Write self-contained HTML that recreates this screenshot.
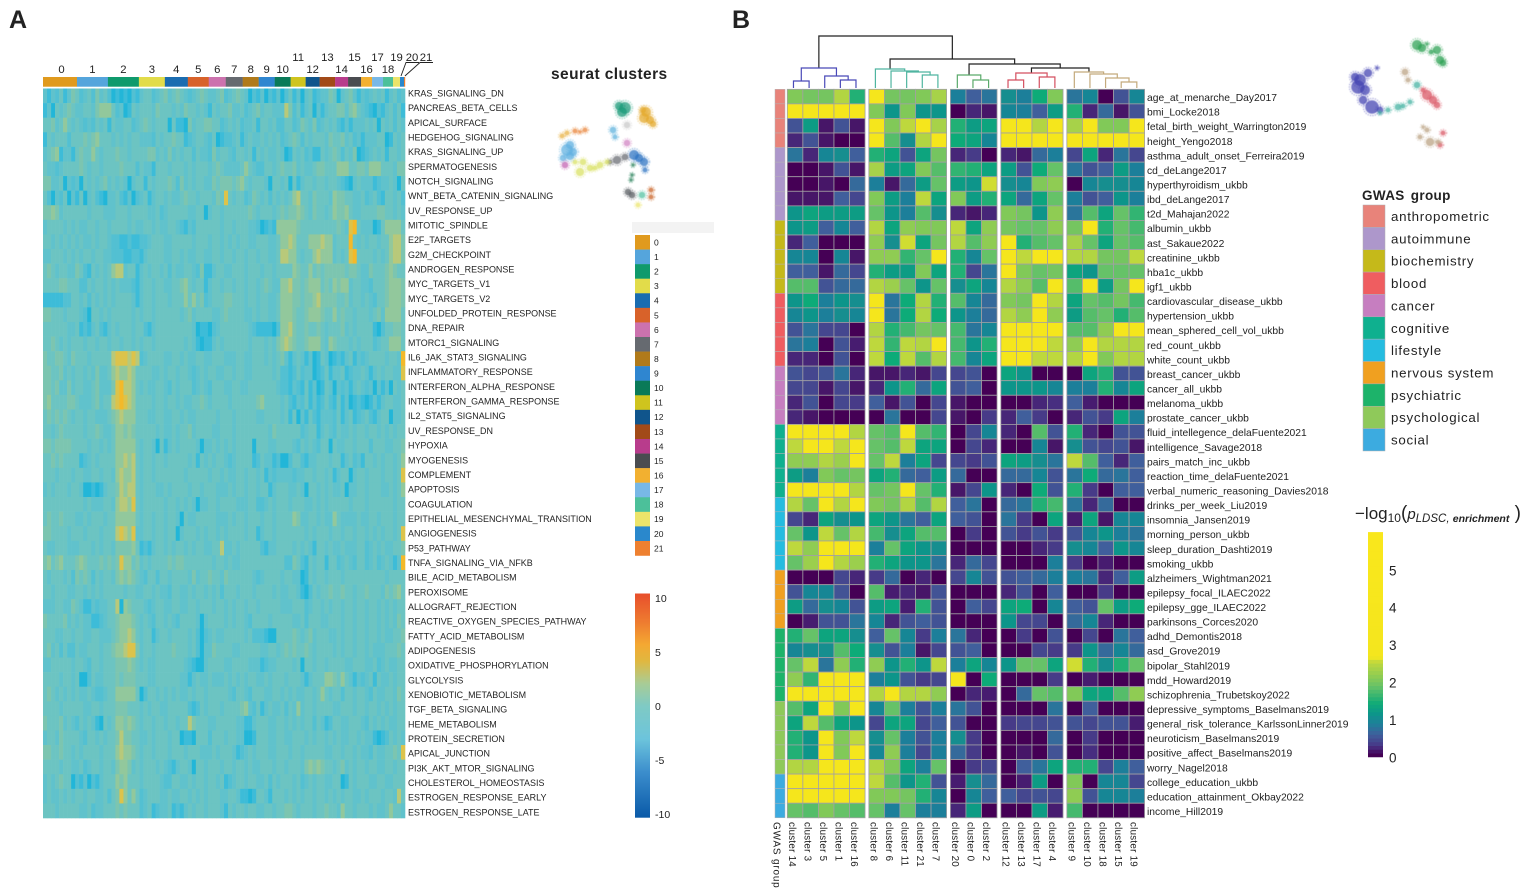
<!DOCTYPE html>
<html lang="en">
<head>
<meta charset="utf-8">
<title>Hallmark pathway and GWAS enrichment heatmaps</title>
<style>
html,body{margin:0;padding:0;background:#fff;width:1535px;height:893px;overflow:hidden}
svg{display:block;font-family:"Liberation Sans",sans-serif}
text{fill:#222}
</style>
</head>
<body>
<svg id="fig" xmlns="http://www.w3.org/2000/svg" width="1535" height="893" viewBox="0 0 1535 893">
<defs><filter id="soft" x="-2%" y="-2%" width="104%" height="104%"><feGaussianBlur stdDeviation="0.45"/></filter>
<filter id="softer" x="-5%" y="-5%" width="110%" height="110%"><feGaussianBlur stdDeviation="0.3"/></filter></defs>
<text x="9" y="28" font-size="25" font-weight="bold" fill="#111">A</text>
<text x="732" y="28" font-size="25" font-weight="bold" fill="#111">B</text>
<g id="panelA"></g>
<g id="panelB"></g>
</svg>
<script>
// ---------- Panel A data ----------
const clusterIds = ["0","1","2","3","4","5","6","7","8","9","10","11","12","13","14","15","16","17","18","19","20","21"];
const clusterCellShare = [34,31,31,26,23,21,17,17,16,16,16,15,14,15.5,13,13,11,11,10,7,4,1];
const clusterColors = ["#e09a1e","#55a5dc","#0f9a6c","#e2dc4a","#1a6cb0","#d8622a","#cc72ae","#666a70","#b07a1a","#2f86d0","#0a7a58","#cfc41e","#10558c","#a24a18","#b83c8c","#4a4c50","#f2b030","#78b8e6","#4cc09a","#ece46a","#2a88cc","#ee8030"];
const clusterLabelTier = [0,0,0,0,0,0,0,0,0,0,0,1,0,1,0,1,0,1,0,1,1,1];
const hallmarkNames = ["KRAS_SIGNALING_DN","PANCREAS_BETA_CELLS","APICAL_SURFACE","HEDGEHOG_SIGNALING","KRAS_SIGNALING_UP","SPERMATOGENESIS","NOTCH_SIGNALING","WNT_BETA_CATENIN_SIGNALING","UV_RESPONSE_UP","MITOTIC_SPINDLE","E2F_TARGETS","G2M_CHECKPOINT","ANDROGEN_RESPONSE","MYC_TARGETS_V1","MYC_TARGETS_V2","UNFOLDED_PROTEIN_RESPONSE","DNA_REPAIR","MTORC1_SIGNALING","IL6_JAK_STAT3_SIGNALING","INFLAMMATORY_RESPONSE","INTERFERON_ALPHA_RESPONSE","INTERFERON_GAMMA_RESPONSE","IL2_STAT5_SIGNALING","UV_RESPONSE_DN","HYPOXIA","MYOGENESIS","COMPLEMENT","APOPTOSIS","COAGULATION","EPITHELIAL_MESENCHYMAL_TRANSITION","ANGIOGENESIS","P53_PATHWAY","TNFA_SIGNALING_VIA_NFKB","BILE_ACID_METABOLISM","PEROXISOME","ALLOGRAFT_REJECTION","REACTIVE_OXYGEN_SPECIES_PATHWAY","FATTY_ACID_METABOLISM","ADIPOGENESIS","OXIDATIVE_PHOSPHORYLATION","GLYCOLYSIS","XENOBIOTIC_METABOLISM","TGF_BETA_SIGNALING","HEME_METABOLISM","PROTEIN_SECRETION","APICAL_JUNCTION","PI3K_AKT_MTOR_SIGNALING","CHOLESTEROL_HOMEOSTASIS","ESTROGEN_RESPONSE_EARLY","ESTROGEN_RESPONSE_LATE"];
// Per-row expression bins (0 = strongly low, 9 = strongly high), column by column
const expressionRows = [
"3132413542 3425342010 1021344234 5345432345 4334523454 3021302130 2413034123 3540345313 2343413423",
"1304345433 4435666423 0143444354 4434354434 3143445334 2345344333 7524134031 3445535643 2102134241",
"4453464343 2324341433 4423454344 4041105344 5544234342 3341443422 4423543523 4342131333 4340434243",
"1434442444 5456444343 4344333243 4454412344 3240122341 3433434342 3454243444 3544534231 3334401434",
"3456133145 4464344454 4344445534 3534344243 3253443244 3414343343 0143423114 3454243501 2343414434",
"4332344445 4344344445 4442433144 4344434344 4345433334 6432244345 4453433455 4446664455 4666444355",
"5533403230 4343453434 3034414344 4542534344 3354555456 4344430443 4041344344 3443210343 3312334304",
"4203240314 0342103342 1302341344 3433454434 4435484344 2354342434 3467443544 4365544334 2342144342",
"5565344444 4344433344 4344443342 3444443344 0344344444 4543444345 4556543544 3465564334 4445544343",
"3444434343 3443443444 4343344343 3443213244 4444344344 4332012166 6665444444 4445438943 3301466664",
"4434343434 3343443221 1211223444 3344444344 4344343434 4334443346 6764446667 6634449434 3443446775",
"3344434343 4434433222 1122134444 3344343344 3344344344 3443443347 7664344676 6634348944 4434346775",
"4543443354 2143434677 3441343443 4243344325 1134433444 3444344344 4465446454 5555545543 3544456544",
"4444554442 2434434343 3321344344 3344564344 1344344344 3443454336 6755456664 5465663443 3244456665",
"1111122443 4243434344 4431344344 4344464645 2344455444 3443443346 6655455675 5554453443 4324456665",
"5544434443 2044343444 4434344344 4444345344 4433454444 3343443346 6654456665 4464544344 4345366664",
"4444443341 2134213434 4434421344 4444444301 1023444444 4321111026 6754454454 3444534344 4410244554",
"4454343444 3443443443 4434344344 4444434310 1134344444 4344434356 7654456664 3654443434 4423446664",
"5445543544 4344444788 8787234444 3344343344 3344433344 3344434345 3134313014 3012134132 3444434439",
"5544534344 3435334676 6764444334 3443443234 3443344344 3344444342 2124233012 4133412334 3134344338",
"5545335344 3345333589 7764343344 3243444234 3244433443 3444444432 2132141301 4303231343 2303130434",
"5644445543 3345344789 8764444344 3443433445 4344443444 4445644443 4213241312 4214130121 0131344334",
"4545454344 3443334567 6664443344 3344343344 4443444344 4443344443 4140314213 3324134123 4213440334",
"4434544444 3445433466 5654444434 3343445344 4433444344 4444443544 4444234413 4324334344 3443434344",
"5545555444 4344343466 6664344304 1343444430 3343434344 4404443344 4432434324 4043344344 4244433445",
"4454544441 2343444466 7674344344 3444443414 3434432344 4412433120 0244213344 4344134231 4434344346",
"4443444344 3344344367 6674344344 4444434444 4344343344 3443413233 3323344344 3413440344 3444344348",
"3434443443 0010134457 6774344433 4344443443 4443334344 3443441344 4334304434 3433403344 3444334346",
"4444444444 3433344367 7684344444 3443434303 3443444433 3442234344 4344433434 3444443444 3444444344",
"4544544433 4344434466 6664344344 3443043344 4443334344 3444344344 4465334434 3364333343 3443444344",
"5544443444 3444344478 7683344344 3440344434 3443434444 3441344344 4444434344 4344344344 3434344348",
"4334443334 4434344355 5564121344 3434434344 3344733434 4444213344 4434343144 3433433344 2343433445",
"5645644456 5444545458 6645343444 4545544444 4434434334 4444444444 2254214344 1442343244 2342343139",
"4344434254 5424344356 5654324424 4344443534 4544354444 4432344443 4433014344 3444344444 4444434444",
"4434443344 3434344444 3443344343 3244334344 3434244434 4434444343 3443102434 4544544344 5444354564",
"3334433543 1132334470 6544432344 3344334434 4434434344 3443444443 3344423443 4344344344 3443434344",
"5444453434 3311234456 6654343244 3432444430 3444434344 3244443444 4433424443 3444344344 3443434354",
"4443344344 3344333456 6764344134 4344443420 2343344444 3422210044 4454345344 4334344344 3443433445",
"4534242243 3444344566 7885344344 4454443420 3354444334 4444334434 5454454344 4434344344 3433344454",
"3344444344 3244344455 5654343344 4444432100 3444433444 4333123344 4434044344 3444433444 3342343344",
"4444344340 0243344454 5554443344 4444331343 3433343434 3443343444 3444313444 6654643132 3414334344",
"4543434343 3432234466 6664024434 3434334344 3444443244 3244433443 4343344346 4344244344 3243344354",
"4444344444 3344344455 5444343443 3444442124 3444344445 6324134334 2436344344 4433444344 3443434344",
"5444534324 3431043466 5654344344 3443447544 4334444433 1134443344 3434344243 1244334443 2434343344",
"3443544443 2443434457 5544334344 4344011044 4244434433 0014443344 3344434344 3434334434 3310124343",
"5544544343 4444344467 6654344344 4344434443 3343444312 3434443344 4344344444 3344344343 3243344548",
"4444344334 2344344356 6534344434 3213443044 3444344344 3433444344 3444356565 4434534344 3443344344",
"3434544021 3021344465 6444344443 2244334344 3443412344 3443342434 4434234344 3344014344 4334433444",
"3433434344 3443342458 6464234443 3433443434 3444334431 1014431444 3434344344 3434344334 3444344374",
"4443444443 3423344454 5444234123 3412134344 3444314344 3443344344 5543444344 5443644344 4343346443"
];
const colorbarATicks = ["10","5","0","-5","-10"];
const colorbarAValues = [10,5,0,-5,-10];
const umapClusterPoints = [
["#1a9a78",70,8,7],["#1a9a78",67,12,6],["#1a9a78",64,6,5],["#e3a82a",91,12,6],["#e3a82a",95,20,5],["#e3a82a",89,18,6],["#e3a82a",88,10,4],["#e3a82a",98,24,4],
["#c8c8c8",72,25,4],["#5ab0dc",58,30,4],["#5ab0dc",60,37,3],["#d080c0",72,43,4],["#2a70c0",79,55,6],["#2a70c0",84,58,5],["#2a70c0",89,62,5],
["#2a70c0",90,70,3],["#666a70",62,60,5],["#666a70",70,57,4],["#666a70",55,62,3],["#d8e060",45,65,4],["#d8e060",52,62,3],["#d8e060",35,68,4],["#d8e060",40,68,3],
["#d8e060",25,72,5],["#d8e060",28,62,4],["#d8e060",20,62,3],["#60b0e0",12,50,7],["#60b0e0",15,45,5],["#60b0e0",15,56,5],["#60b0e0",8,58,4],["#60b0e0",18,52,5],
["#e88030",20,31,3],["#e88030",25,32,2],["#e88030",30,30,3],["#e8b040",7,36,3],["#e8b040",12,33,3],["#c060b0",10,65,4],["#1a7a50",78,65,2],
["#1a7a50",77,75,2],["#1a7a50",76,80,2],["#555a60",73,92,4],["#555a60",77,95,4],["#50c0a0",87,95,4],
["#c86020",96,90,3],["#c86020",96,97,3],["#ece46a",83,105,3]
];
// ---------- Panel B data ----------
const gwasClusters = ["cluster 14","cluster 3","cluster 5","cluster 1","cluster 16","cluster 8","cluster 6","cluster 11","cluster 21","cluster 7","cluster 20","cluster 0","cluster 2","cluster 12","cluster 13","cluster 17","cluster 4","cluster 9","cluster 10","cluster 18","cluster 15","cluster 19"];
const clusterGroupSizes = [5,5,3,4,5];
const gwasTraits = ["age_at_menarche_Day2017","bmi_Locke2018","fetal_birth_weight_Warrington2019","height_Yengo2018","asthma_adult_onset_Ferreira2019","cd_deLange2017","hyperthyroidism_ukbb","ibd_deLange2017","t2d_Mahajan2022","albumin_ukbb","ast_Sakaue2022","creatinine_ukbb","hba1c_ukbb","igf1_ukbb","cardiovascular_disease_ukbb","hypertension_ukbb","mean_sphered_cell_vol_ukbb","red_count_ukbb","white_count_ukbb","breast_cancer_ukbb","cancer_all_ukbb","melanoma_ukbb","prostate_cancer_ukbb","fluid_intellegence_delaFuente2021","intelligence_Savage2018","pairs_match_inc_ukbb","reaction_time_delaFuente2021","verbal_numeric_reasoning_Davies2018","drinks_per_week_Liu2019","insomnia_Jansen2019","morning_person_ukbb","sleep_duration_Dashti2019","smoking_ukbb","alzheimers_Wightman2021","epilepsy_focal_ILAEC2022","epilepsy_gge_ILAEC2022","parkinsons_Corces2020","adhd_Demontis2018","asd_Grove2019","bipolar_Stahl2019","mdd_Howard2019","schizophrenia_Trubetskoy2022","depressive_symptoms_Baselmans2019","general_risk_tolerance_KarlssonLinner2019","neuroticism_Baselmans2019","positive_affect_Baselmans2019","worry_Nagel2018","college_education_ukbb","education_attainment_Okbay2022","income_Hill2019"];
const gwasMatrix = [
[2.2,2.1,2.1,2.6,1.6, 3.2,2.1,2.1,2.2,2.5, .9,.6,.8, 1.1,.9,1.5,2.2, .8,1,0,.5,1],
[3.3,3.3,3.3,3.3,3.3, 2.2,1.2,2.2,1.2,1.2, 0,.2,.1, 1,.9,.6,1.3, 1.6,.2,.7,.1,.5],
[.5,1.3,.1,.5,.1, 3.2,2.2,2.7,3.2,2.5, 1.6,1.3,1.4, 3.2,3.2,2.6,3.2, 2.5,3.2,2.2,2.2,3.2],
[.2,.5,.1,0,0, 3.3,1.9,1.1,2.6,3.2, 1.5,1.4,1, 3.2,3.2,3.2,3.2, 3.2,3.2,3.2,3.2,3.2],
[.8,.2,1,1.1,.6, 1.6,1.4,.5,1.4,2.1, .2,.3,0, .2,.1,.7,.9, .4,1.4,.2,.8,.4],
[0,0,.1,.5,.1, 2.5,1.3,1.4,2.2,1.9, 1.7,1.6,1.4, 1.3,.5,1.5,2, .8,.5,.6,1.3,.9],
[0,0,.1,0,.7, .9,.1,.7,1.3,2, 1.3,1.2,2.75, 1.1,1,2.2,2.3, 0,1,1.1,1.1,1],
[.1,.1,.1,.6,.4, 2.2,1.3,.9,2.7,1.4, 2.2,1.3,1.6, 1.4,.7,1.4,2, .9,.5,.6,1.2,.9],
[1.2,1.4,1.3,1.3,1.3, 2,1.2,.9,1.9,1.1, .2,.1,.2, 2.2,2.1,1.2,2.3, .8,1.9,1.4,2,1.7],
[1.2,1.3,.6,1,.6, 2.6,1.4,2.3,2.2,2.2, 2.7,1.4,2.3, 2.1,2,2,2.3, 2.1,3.2,1.6,2,1.8],
[.2,.6,0,0,0, 2.3,1.1,2.75,1.4,2.1, 2.6,1.9,2.3, 3.2,1.6,1.9,2, 2.5,2,1.4,2,1.9],
[1,1,0,1,.1, 2.3,2.3,1.7,2,3.2, 1.6,1,2, 3.2,2.7,3.2,3.2, 2.6,2.6,2.1,2.1,2.7],
[.6,.6,.1,.7,.4, 1.6,1.3,1.3,2.2,1.4, 1.6,.4,.8, 3.2,2.2,2,2.1, 1.4,1.2,2,2,2],
[1.9,1.9,.5,.7,.7, 2.6,2.4,2,1.2,2, 1.1,1.4,1, 2.6,2.3,1.9,3.2, 1.9,3.2,1.3,2.1,3.2],
[1.2,1.5,.9,1.2,1.1, 3.2,.8,1.5,2.6,1.6, 1.9,1,.7, 2.2,2.1,3.2,2.6, 1.4,2,1.9,2.1,1.8],
[1,1.2,.9,1.1,1, 3.2,.8,1.5,2.6,1.5, 1.2,.9,.7, 2.6,2.3,3.2,2.3, 1.3,1.9,2,1.6,1.9],
[.5,.8,.4,.4,0, 2.6,1.6,1.8,2.1,2, 1.8,.8,1, 3.2,3.2,3.2,3.2, 1.9,1.9,2.3,3.2,3.2],
[.8,.9,0,.5,.15, 2.7,1.7,2.7,2.6,3.2, 1.8,1.2,1.6, 3.2,3.2,3.2,2.7, 2.3,3.2,2.6,2.6,2.6],
[.2,.2,0,.5,0, 2.7,1.5,2.7,1.9,2.6, 1.8,1,1.4, 3.2,3.2,2.7,2.7, 2.6,3.2,2.2,2.6,2.6],
[.5,.4,.5,.8,.2, .1,.1,.2,.1,.4, .4,.5,0, 1.4,1.2,0,0, 0,1.4,1.6,.5,.5],
[.4,.4,.1,.4,.1, .2,1.2,1.6,.7,1.4, .5,.6,0, 1.2,1.2,1.2,1, .9,.9,1.6,1,1.4],
[.2,.5,0,.4,.3, .6,.1,.5,0,.4, .1,0,0, 0,0,.2,.25, .6,.15,0,0,0],
[.2,.1,0,0,0, 0,.8,0,0,.4, .1,0,.3, .2,.6,.3,0, .2,.5,.3,1.4,.9],
[3.2,3.2,3.2,3.2,2.6, 2,1.9,3.2,1.9,1.7, 0,.4,1, .2,0,1.9,.5, 1.6,.2,0,.5,.5],
[2.7,3.2,3.2,2.7,3.2, 2,1.9,2.7,1.4,1.4, 0,.4,.2, 0,0,1,.1, 1.1,.5,.4,.5,.1],
[2.3,2.3,2.6,2.4,3.2, 2,2.7,.9,1.4,.4, .4,.3,.5, 1.4,1.3,1.1,.8, 2.7,1.9,.6,.2,.6],
[1.3,.9,2.2,2,2.1, 1.4,1.6,.7,.6,1.3, .7,0,0, .7,.7,1,.5, .8,1.5,.7,.8,.6],
[3.2,3.2,3.2,3.2,2.6, 2,2.1,3.2,2,1.6, .1,.4,1.2, .2,0,1.5,.5, 1.6,.3,0,.6,.6],
[2.6,2,3.2,2.6,3.2, 2.2,2.1,2.6,1.9,2.6, .6,.8,0, .7,.8,1.6,1.8, .8,.2,.7,0,0],
[.4,.2,1.4,1.1,1.2, 1.4,1.2,.8,.6,1.4, .6,.5,0, .8,.3,0,1.4, .15,1.4,.1,1,1],
[2,1.2,2.7,2,2.6, 1.8,1.1,1.4,1.9,1.9, 0,.3,0, .5,.3,.5,.3, .5,1,1.2,.9,.8],
[2.7,2.3,3.2,3.2,3.2, .9,2,1.4,1.2,1.1, 0,0,0, 0,0,.2,.3, 1.1,1,.6,1.2,1],
[2,2.4,3.2,2.6,2.4, 1.6,1.4,1.2,1.2,.8, .2,.7,.4, 0,0,0,.9, .3,0,.15,0,0],
[0,0,0,.4,.2, .3,.7,0,.2,0, .4,1,.5, .5,.6,.7,.9, .9,.8,.2,.6,1.3],
[.5,1,1,.5,0, 1.9,.15,.2,.1,.5, 0,0,0, .2,.5,0,.6, 0,0,.3,0,0],
[1.3,.7,1.1,1,.5, 1.3,1.4,.15,1.6,.5, 0,.6,.4, 1.4,1.5,0,1, .6,.5,2,1.3,1.5],
[0,.15,.5,.5,.8, 1,.2,.5,.6,.5, 0,0,0, 1.2,.4,.4,0, .7,1,.2,0,0],
[1.6,2,1.4,1.4,1.1, .6,2,1,.3,.9, .8,.2,0, 0,.3,0,.5, 0,.4,0,.8,.6],
[1,1.1,1.1,1.9,1.5, 1.1,.5,.9,.1,.4, .5,.6,0, 0,0,.4,.3, .3,1.2,.7,1,.7],
[2,2.7,.8,2.3,1.6, 2.3,1.2,1.6,1.2,2.7, .9,1.4,1, 1.2,2,2,1.4, 2.75,1.6,1.1,1.6,2],
[2.3,1.7,3.2,3.2,3.2, .9,1.2,.5,.3,.4, 3.2,0,1.5, 0,0,0,.3, 0,.15,0,0,0],
[3.2,3.2,3.2,3.2,3.2, 2.6,3.2,2.6,2.6,2.3, 0,.2,.15, 0,.7,2,1.9, 2.2,1.4,1.4,1.9,2.3],
[1.9,1.4,3.2,2.2,3.2, 1,2,.9,.5,.9, .8,.5,0, 0,0,0,.8, 0,.6,0,0,0],
[1.4,2.7,1.9,1.4,1.2, .4,1.4,1.4,.4,.6, .5,0,0, .3,.4,.4,.5, .5,.4,.5,.5,.15],
[1.6,1.2,3.2,2.2,2.7, 1.1,2,.9,.5,.9, 1.1,.3,0, 0,0,0,.7, 0,.3,0,0,0],
[1.6,1.2,3.2,2.2,3.2, 1,2.3,.9,.4,.9, .7,.3,0, 0,.1,0,.5, 0,.25,0,0,0],
[2.6,2.6,3.2,3.2,3.2, 2.6,2.2,1.4,.9,2, 0,.3,.4, 0,.6,.8,1.4, 1.6,1.6,.4,.9,.6],
[3.2,3.2,3.2,3.2,3.2, 2.7,1.9,1.2,1.6,.5, .15,1.1,.7, 0,.15,1.3,0, 2.2,0,1,1,.4],
[3.2,3.2,3.2,3.2,3.2, 2.2,2.2,2.1,1.6,1, 0,1,.6, .6,.4,.5,.4, 2.3,.5,1,1,.9],
[2,1.9,2.2,2,1.9, 2,.9,2,.9,.9, .2,1.3,0, 0,0,1.3,.15, 1.8,0,0,0,0]
];
const gwasGroupNames = ["anthropometric","autoimmune","biochemistry","blood","cancer","cognitive","lifestyle","nervous system","psychiatric","psychological","social"];
const gwasGroupColors = ["#e8837a","#ad97cb","#c5b91a","#ef5d60","#c67ec0","#0fb08f","#25bce0","#f0a020","#1db36a","#8fc95a","#3cabe0"];
const gwasGroupCounts = [4,5,5,5,4,5,5,4,5,5,3];
const colorbarBTicks = [5,4,3,2,1,0];
const blueBranch = [20,[7,0,1],[12,2,[8,3,4]]];
const tealBranch = [19,5,[17,6,[16,7,[13,8,9]]]];
const greenBranch = [13,10,[8,11,12]];
const redBranch = [15,[8,13,14],[11,15,16]];
const tanBranch = [16,17,[14,18,[10,19,[6,20,21]]]];
const dendroRoot = [52,blueBranch,[29,tealBranch,[24,greenBranch,[20,redBranch,tanBranch]]]];
const umapBranchPoints = [
["#2aa050",82,15,6],["#2aa050",87,18,5],["#2aa050",92,14,2],["#2aa050",96,22,3],["#2aa050",102,20,5],["#2aa050",105,30,5],["#2aa050",108,33,4],
["#4040b0",25,50,7],["#4040b0",23,57,8],["#4040b0",33,43,5],["#4040b0",20,47,5],["#4040b0",30,60,6],["#4040b0",42,38,2],["#4040b0",37,77,8],["#4040b0",28,70,5],["#4040b0",45,80,4],
["#b8a080",70,42,4],["#b8a080",73,50,3],["#40b0a0",63,77,4],["#40b0a0",68,76,3],["#40b0a0",53,80,3],["#40b0a0",45,83,2],["#40b0a0",75,72,3],["#40b0a0",82,55,4],
["#d85060",92,65,6],["#d85060",98,70,5],["#d85060",88,60,3],["#d85060",102,75,4],["#d85060",108,103,3],["#d85060",105,115,3],["#b8a080",88,97,2],["#b8a080",85,107,3],["#b8a080",95,112,5],["#b8a080",92,100,3],["#b8a080",103,112,3]
];

// ---------- Helpers ----------
const NS = "http://www.w3.org/2000/svg";
function mk(parent, tag, props, txt) {
  const el = document.createElementNS(NS, tag);
  for (const k in props) el.setAttribute(k, props[k]);
  if (txt !== undefined) el.textContent = txt;
  parent.appendChild(el);
  return el;
}
function hexRgb(h){return [parseInt(h.slice(1,3),16),parseInt(h.slice(3,5),16),parseInt(h.slice(5,7),16)];}
function ramp(stops, v) {
  if (v <= stops[0][0]) return stops[0][1];
  for (let i = 1; i < stops.length; i++) {
    if (v <= stops[i][0]) {
      const t = (v - stops[i-1][0]) / (stops[i][0] - stops[i-1][0]);
      const a = hexRgb(stops[i-1][1]), b = hexRgb(stops[i][1]);
      return "rgb(" + a.map((c,j)=>Math.round(c+(b[j]-c)*t)).join(",") + ")";
    }
  }
  return stops[stops.length-1][1];
}
// ---------- Panel A ----------
const panelA = document.getElementById("panelA");
const aLeft = 43, aRight = 405, aTop = 88.5, aBottom = 818;
const rowH = (aBottom - aTop) / hallmarkNames.length;
const binStops = [[0,"#22b6d8"],[1,"#3dbcd8"],[2,"#52c0d2"],[3,"#60c2cc"],[4,"#6cc4c2"],[5,"#7cc5b0"],[6,"#92c89c"],[7,"#b8c97a"],[8,"#dcc34c"],[9,"#f3b92a"]];
const zStops = [[-10,"#0a5aa8"],[-6,"#3b8dcc"],[-3,"#6cc4dc"],[0,"#7fcac4"],[2,"#a8cc96"],[4,"#e0b840"],[5.5,"#f4a832"],[7.5,"#ee7c30"],[10,"#e8502c"]];
const heatA = mk(panelA, "g", {filter:"url(#softer)"});


expressionRows.forEach((row, r) => {
  const bins = row.replace(/\s/g, "").split("").map(Number);
  const w = (aRight - aLeft) / bins.length;
  bins.forEach((b, c) => {
    const cell = mk(heatA, "rect", {x:aLeft + c*w, y:aTop + r*rowH, width:w + .3, height:rowH + .3, fill:ramp(binStops, b)});
    
    
  });
});
hallmarkNames.forEach((n, r) => {
  const t = mk(panelA, "text", {x:408, y:93.5 + r*14.67, "font-size":8.95, "dominant-baseline":"central", fill:"#111"}, n);
  
  
});
const shareTotal = clusterCellShare.reduce((a,b)=>a+b,0);
let cursor = aLeft;
const clusterBarScale = (aRight - aLeft) / shareTotal;
clusterIds.forEach((id, i) => {
  const w = clusterCellShare[i] * clusterBarScale;
  const bar = mk(panelA, "rect", {x:cursor, y:77, width:w + .2, height:9.7, fill:clusterColors[i]});
  
  
  const mid = cursor + w/2;
  let lx = mid + (i === 0 ? 1.5 : 0), ly = clusterLabelTier[i] ? 61 : 73;
  if (id === "20") lx = 412;
  if (id === "21") lx = 426;
  const t = mk(panelA, "text", {x:lx, y:ly, "font-size":11.3, "text-anchor":"middle", fill:"#222"}, id);
  
  
  if (id === "20" || id === "21") {
    const x1 = lx - 6, x2 = lx + 7;
    const leader = mk(panelA, "polyline", {points:`${x2},62.5 ${x1},62.5 ${id==="20"?mid-1:mid+.4},76`, fill:"none", stroke:"#222", "stroke-width":.9});
    
    
  }
  cursor += w;
});
const seurat = mk(panelA, "text", {x:551, y:79, "font-size":15.5, "font-weight":"bold", "letter-spacing":.42, fill:"#161616", filter:"url(#softer)"}, "seurat clusters");


function drawUmap(parent, pts, ox, oy) {
  const g = mk(parent, "g", {filter:"url(#soft)"});
  
  
  pts.forEach(p => {
    const cx = ox + p[1], cy = oy + p[2], r = p[3];
    const dot = mk(g, "circle", {cx, cy, r:r*.85, fill:p[0], "fill-opacity":.72});
    
    
    const ring = mk(g, "circle", {cx, cy, r:r+.6, fill:"none", stroke:p[0], "stroke-opacity":.7, "stroke-width":1, "stroke-dasharray":"1 1.4"});
    
    
  });
}
drawUmap(panelA, umapClusterPoints, 555, 100);
const band = mk(panelA, "rect", {x:632, y:222, width:82, height:11, fill:"#f3f3f3"});


clusterIds.forEach((id, i) => {
  const y = 235 + i*14.57;
  const sw = mk(panelA, "rect", {x:635, y, width:15, height:14.8, fill:clusterColors[i]});
  
  
  const t = mk(panelA, "text", {x:654, y:y + 7.4, "font-size":8.5, "dominant-baseline":"central", fill:"#444"}, id);
  
  
});
const cbTop = 593.5, cbBottom = 816;
const cbScale = v => 707 - v * 10.8;
for (let y = cbTop; y < cbBottom; y += 2) {
  const val = 10 - (y - cbTop) / (cbBottom - cbTop) * 20;
  const seg = mk(panelA, "rect", {x:635, y, width:15, height:2.2, fill:ramp(zStops, val)});
  
  
}
colorbarATicks.forEach((lab, i) => {
  const t = mk(panelA, "text", {x:655, y:cbScale(colorbarAValues[i]), "font-size":10.5, "dominant-baseline":"central", fill:"#333"}, lab);
  
  
});

// ---------- Panel B ----------
const panelB = document.getElementById("panelB");
const cellW = 15.55, cellH = 14.57, bLeft = 787.3, bTop = 89.3, groupGap = 3.8;
const viridisStops = [[0,"#440154"],[.15,"#471a70"],[.3,"#473a88"],[.6,"#3f5f9c"],[.9,"#1f7f9a"],[1.2,"#0d958a"],[1.5,"#10ab78"],[2,"#66c268"],[2.3,"#8fcc52"],[2.7,"#bed83e"],[2.85,"#f4e61e"],[6,"#f9e71c"]];
const colGroup = [];
clusterGroupSizes.forEach((n, g) => { for (let i = 0; i < n; i++) colGroup.push(g); });
const xOf = c => bLeft + c * cellW + colGroup[c] * groupGap;
const yOf = r => bTop + r * cellH;
const heatB = mk(panelB, "g", {filter:"url(#softer)"});


gwasMatrix.forEach((row, r) => {
  row.forEach((v, c) => {
    const cell = mk(heatB, "rect", {x:xOf(c), y:yOf(r), width:cellW, height:cellH, fill:ramp(viridisStops, v), stroke:"#a2a0a4", "stroke-width":.8});
    
    
  });
});
gwasTraits.forEach((n, r) => {
  const t = mk(panelB, "text", {x:1147, y:yOf(r) + cellH/2 + 2, "font-size":10.3, "dominant-baseline":"central", fill:"#2a2a2a"}, n);
  
  
});
gwasClusters.forEach((n, c) => {
  const cx = xOf(c) + cellW/2;
  const t = mk(panelB, "text", {transform:`translate(${cx - 6.2},822) rotate(90)`, "font-size":9.8, "letter-spacing":.25, fill:"#2a2a2a"}, n);
  
  
});
const stripLabel = mk(panelB, "text", {transform:"translate(773.5,822) rotate(90)", "font-size":10, "letter-spacing":.8, fill:"#222"}, "GWAS group");


let rowCursor = 0;
gwasGroupCounts.forEach((n, g) => {
  for (let i = 0; i < n; i++) {
    const s = mk(panelB, "rect", {x:775, y:yOf(rowCursor), width:10, height:cellH, fill:gwasGroupColors[g], stroke:"#b5b3b5", "stroke-width":.5});
    
    
    rowCursor++;
  }
});
// Dendrogram
const branchColor = new Map([[blueBranch,"#4a4ab8"],[tealBranch,"#4fb5a0"],[greenBranch,"#5aaa6a"],[redBranch,"#d45060"],[tanBranch,"#c4aa7c"]]);
const dendroBase = 88;
const leafX = c => xOf(c) + cellW/2 - 1.6 + 1.6 * c / 21;
const nodeX = n => typeof n === "number" ? leafX(n) : (nodeX(n[1]) + nodeX(n[2])) / 2;
const nodeY = n => typeof n === "number" ? dendroBase : dendroBase - n[0];
const dendroG = mk(panelB, "g", {fill:"none", "stroke-width":1.2, filter:"url(#softer)"});


function drawNode(node, color) {
  if (typeof node === "number") return;
  const xa = nodeX(node[1]), xb = nodeX(node[2]), y = nodeY(node);
  const branch = mk(dendroG, "polyline", {points:`${xa},${nodeY(node[1])} ${xa},${y} ${xb},${y} ${xb},${nodeY(node[2])}`, stroke:color});
  
  
  [node[1], node[2]].forEach(ch => drawNode(ch, branchColor.get(ch) || color));
}
drawNode(dendroRoot, "#222");
drawUmap(panelB, umapBranchPoints, 1335, 30);
// GWAS legend
const legendTitle = mk(panelB, "text", {x:1362, y:200, "font-size":13.5, "font-weight":"bold", "letter-spacing":.35, "word-spacing":2, fill:"#222"}, "GWAS group");


gwasGroupNames.forEach((n, i) => {
  const y = 205 + i * 22.36;
  const sw = mk(panelB, "rect", {x:1363, y, width:22, height:22.36, fill:gwasGroupColors[i], stroke:"#b0aeb0", "stroke-width":.5});
  
  
  const t = mk(panelB, "text", {x:1391, y:y + 11.5, "font-size":13.3, "letter-spacing":.72, "dominant-baseline":"central", fill:"#2c2c2c", filter:"url(#softer)"}, n);
  
  
});
// Colorbar title (real text)
const cbTitle = mk(panelB, "text", {x:1355, y:519, "font-size":17, fill:"#222"});


mk(cbTitle, "tspan", {}, "\u2212log");
mk(cbTitle, "tspan", {"font-size":12, dy:3}, "10");
mk(cbTitle, "tspan", {"font-size":19, dy:-3}, "(");
mk(cbTitle, "tspan", {"font-style":"italic", "font-size":15}, "p");
mk(cbTitle, "tspan", {"font-style":"italic", "font-size":11.5, dy:3}, "LDSC, ");
mk(cbTitle, "tspan", {"font-style":"italic", "font-size":10.5, "font-weight":"bold"}, "enrichment");
mk(cbTitle, "tspan", {"font-size":19, dy:-3}, " )");
// Enrichment colorbar
const barY = v => 757 - v * 37.45;
for (let v = 0; v < 5.9; v += .1) {
  const seg = mk(panelB, "rect", {x:1368, y:barY(v + .1) - .2, width:15, height:4.2, fill:ramp(viridisStops, v * 1.09)});
  
  
}
colorbarBTicks.forEach(v => {
  const t = mk(panelB, "text", {x:1389, y:barY(v) + 1, "font-size":13.5, "dominant-baseline":"central", fill:"#222"}, String(v));
  
  
});
</script>
</body>
</html>
